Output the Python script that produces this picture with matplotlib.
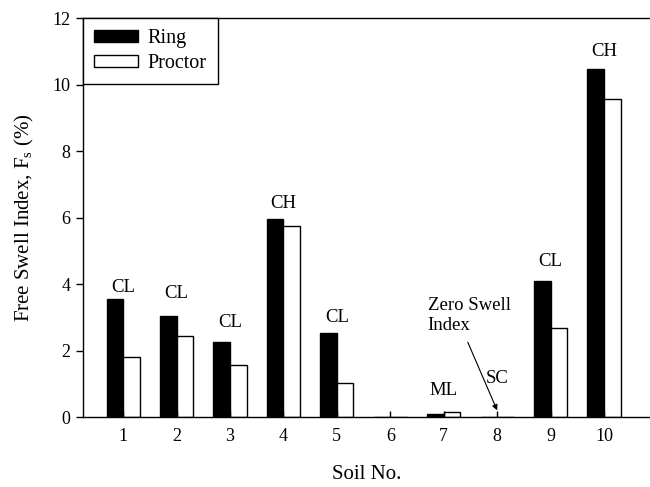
import numpy as np
import matplotlib
matplotlib.use('Agg')
import matplotlib.pyplot as plt

matplotlib.rcParams.update({
    'font.family': 'serif',
    'font.serif': ['Liberation Serif', 'DejaVu Serif'],
    'mathtext.fontset': 'custom',
    'mathtext.rm': 'Liberation Serif',
    'mathtext.it': 'Liberation Serif',
    'font.size': 13,
    'axes.linewidth': 1.0,
})

# ── Data ───────────────────────────────────────────────────────────────────
soil_no = np.arange(1, 11)
ring    = [3.54, 3.05, 2.26, 5.95, 2.54, 0.0, 0.09, 0.0, 4.10, 10.47]
proctor = [1.81, 2.45, 1.56, 5.74, 1.01, 0.0, 0.16, 0.0, 2.69, 9.55]
uscs    = ['CL', 'CL', 'CL', 'CH', 'CL', '', 'ML', 'SC', 'CL', 'CH']
lbl_y   = [3.91, 3.70, 2.84, 6.41, 3.00, 0.0, 0.81, 1.17, 4.67, 10.99]

BW = 0.31

fig = plt.figure(figsize=(6.5, 4.87), dpi=100)
ax = fig.add_axes([0.1277, 0.1437, 0.8723, 0.8193])

ax.bar(soil_no - BW / 2, ring, width=BW, color='black',
       edgecolor='black', linewidth=1.0, label='Ring')
ax.bar(soil_no + BW / 2, proctor, width=BW, color='white',
       edgecolor='black', linewidth=1.0, label='Proctor')

for x, t, y in zip(soil_no, uscs, lbl_y):
    if t:
        ax.text(x, y, t, ha='center', va='center', fontsize=13.5)

ax.annotate('', xy=(8.0, 0.2), xytext=(7.45, 2.25),
            arrowprops=dict(arrowstyle='-|>', color='black', lw=0.8,
                            mutation_scale=8, shrinkA=0, shrinkB=0))
ax.text(6.7, 3.05, 'Zero Swell\nIndex', ha='left', va='center',
        fontsize=13.5, linespacing=1.2)

ax.set_xlim(0.25, 10.86)
ax.set_ylim(0, 12)
ax.set_xticks(soil_no)
ax.set_yticks(np.arange(0, 13, 2))
ax.tick_params(axis='x', direction='in', length=4, width=1.0, pad=8)
ax.tick_params(axis='y', direction='out', length=5, width=1.0, pad=4)
ax.spines['right'].set_visible(False)

ax.set_xlabel('Soil No.', fontsize=15, labelpad=14)
ax.set_ylabel(r'Free Swell Index, F$_s$ (%)', fontsize=15, labelpad=12)

leg = ax.legend(loc='upper left', borderaxespad=0, fancybox=False,
                framealpha=1, edgecolor='black', fontsize=14.5,
                handlelength=2.2, handleheight=0.6, handletextpad=0.45,
                borderpad=0.55, labelspacing=0.3)
leg.get_frame().set_linewidth(1.0)

fig.savefig('out.png', dpi=100, facecolor='white')
